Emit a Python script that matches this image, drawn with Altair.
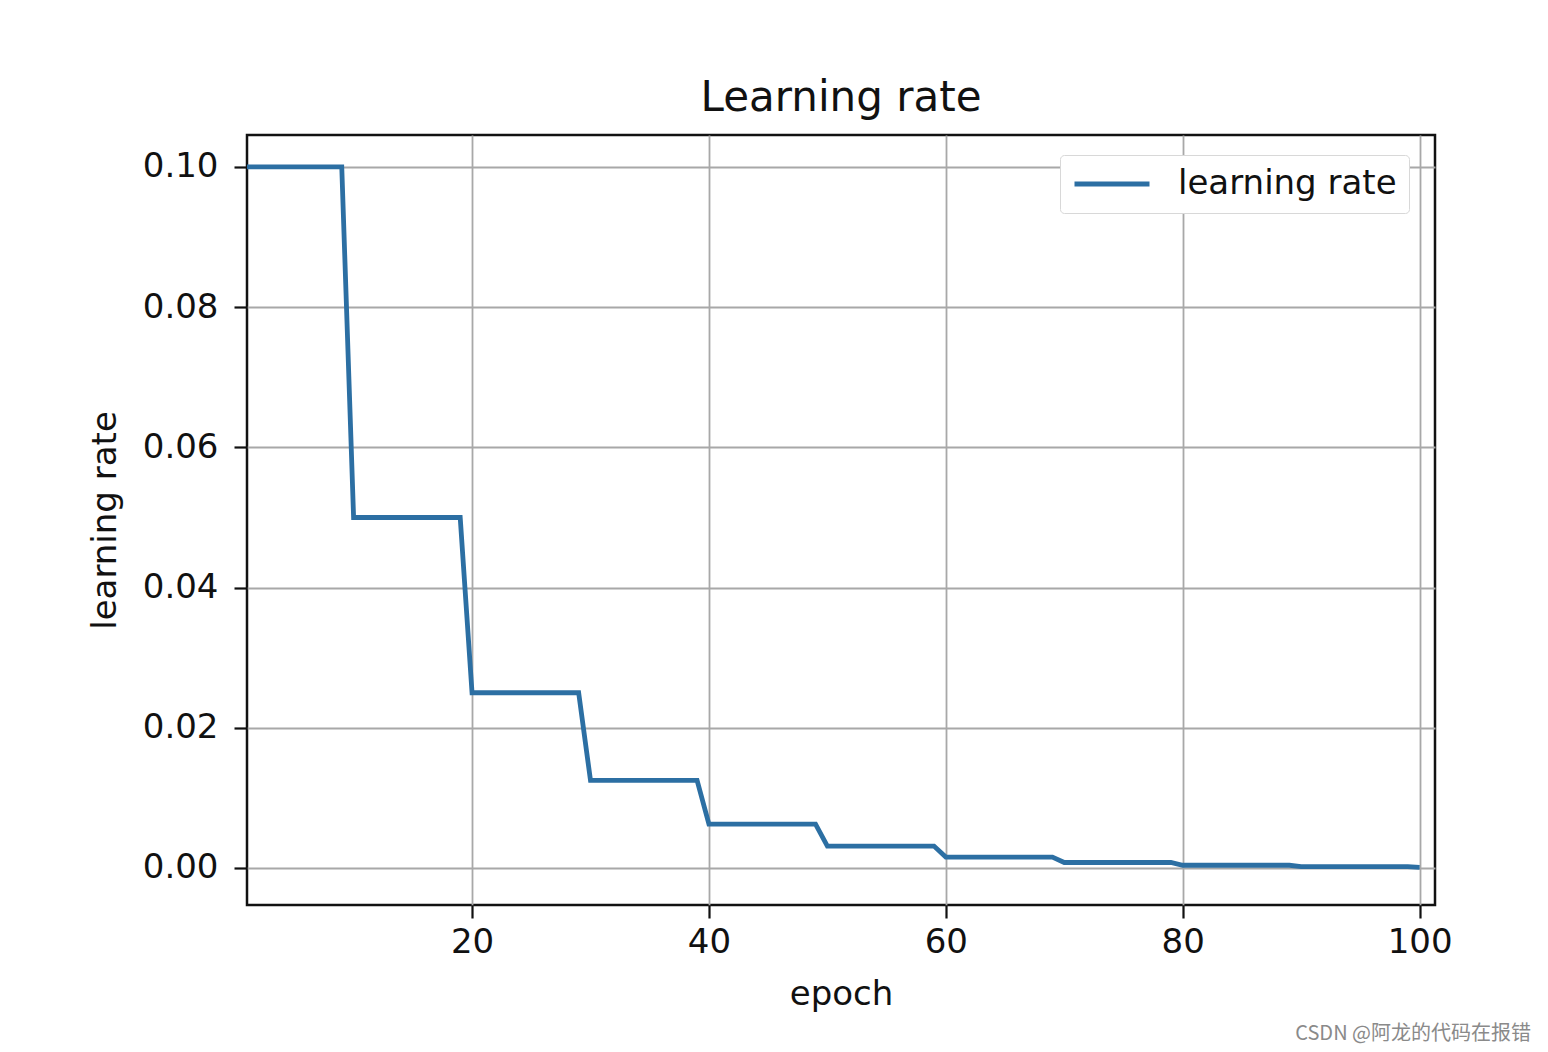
import altair as alt
import pandas as pd

epochs = list(range(1, 101))
lr_values = (
    [0.1] * 9
    + [0.05] * 10
    + [0.025] * 10
    + [0.0125] * 10
    + [0.00625] * 10
    + [0.003125] * 10
    + [0.0015625] * 10
    + [0.00078125] * 10
    + [0.000390625] * 10
    + [0.0001953125] * 10
    + [0.00009765625] * 1
)
series_name = "learning rate"
x_ticks = [20, 40, 60, 80, 100]
y_ticks = [0.0, 0.02, 0.04, 0.06, 0.08, 0.10]
watermark = "CSDN @阿龙的代码在报错"

df = pd.DataFrame({"epoch": epochs, "lr": lr_values, "series": [series_name] * len(epochs)})

FONT = "DejaVu Sans"
W, H = 1188, 770

line = alt.Chart(df).mark_line(strokeWidth=4.8, clip=True).encode(
    x=alt.X(
        "epoch:Q",
        scale=alt.Scale(domain=[1, 101.3], nice=False, zero=False),
        axis=alt.Axis(
            values=x_ticks, title="epoch", format="d",
            labelFontSize=34, titleFontSize=34, labelFont=FONT, titleFont=FONT,
            labelColor="#111", titleColor="#111", titleFontWeight="normal",
            tickSize=13, tickWidth=2.2, tickColor="#111", labelPadding=7,
            titlePadding=18, domain=False, grid=True, gridColor="#a8a8a8",
            gridWidth=1.8, labelFlush=False,
        ),
    ),
    y=alt.Y(
        "lr:Q",
        scale=alt.Scale(domain=[-0.00528, 0.10456], nice=False, zero=False),
        axis=alt.Axis(
            values=y_ticks, title="learning rate", format=".2f",
            labelFontSize=34, titleFontSize=34, labelFont=FONT, titleFont=FONT,
            labelColor="#111", titleColor="#111", titleFontWeight="normal",
            tickSize=13, tickWidth=2.2, tickColor="#111", labelPadding=16,
            titlePadding=20, domain=False, grid=True, gridColor="#a8a8a8",
            gridWidth=1.8, labelFlush=False,
        ),
    ),
    color=alt.Color(
        "series:N",
        scale=alt.Scale(domain=[series_name], range=["#2c6fa3"]),
        legend=alt.Legend(
            title=None, orient="none", legendX=813, legendY=20,
            symbolType="stroke", symbolSize=5625, symbolStrokeWidth=5,
            clipHeight=34,
            labelFontSize=34, labelFont=FONT, labelColor="#111", labelLimit=0,
            labelOffset=26, padding=12, fillColor="white",
            strokeColor="#d8d8d8", cornerRadius=4,
        ),
    ),
)

wm = alt.Chart(pd.DataFrame({"t": [watermark]})).mark_text(
    align="right", baseline="alphabetic", fontSize=20,
    font="Noto Sans CJK SC", color="#8a8a8a", clip=False,
).encode(text="t:N", x=alt.value(1531 - 247), y=alt.value(1040 - 135))

chart = alt.layer(line, wm).properties(
    width=W, height=H,
    background="white",
    title=alt.TitleParams("Learning rate", fontSize=42, font=FONT, fontWeight="normal",
                          color="#111", offset=15, anchor="middle"),
    autosize=alt.AutoSizeParams(type="none"),
    padding={"left": 247, "top": 135, "right": 113, "bottom": 147},
).configure_view(stroke="#111", strokeWidth=2.5)

chart.save("out.html", embed_options={"renderer": "svg", "actions": False})
